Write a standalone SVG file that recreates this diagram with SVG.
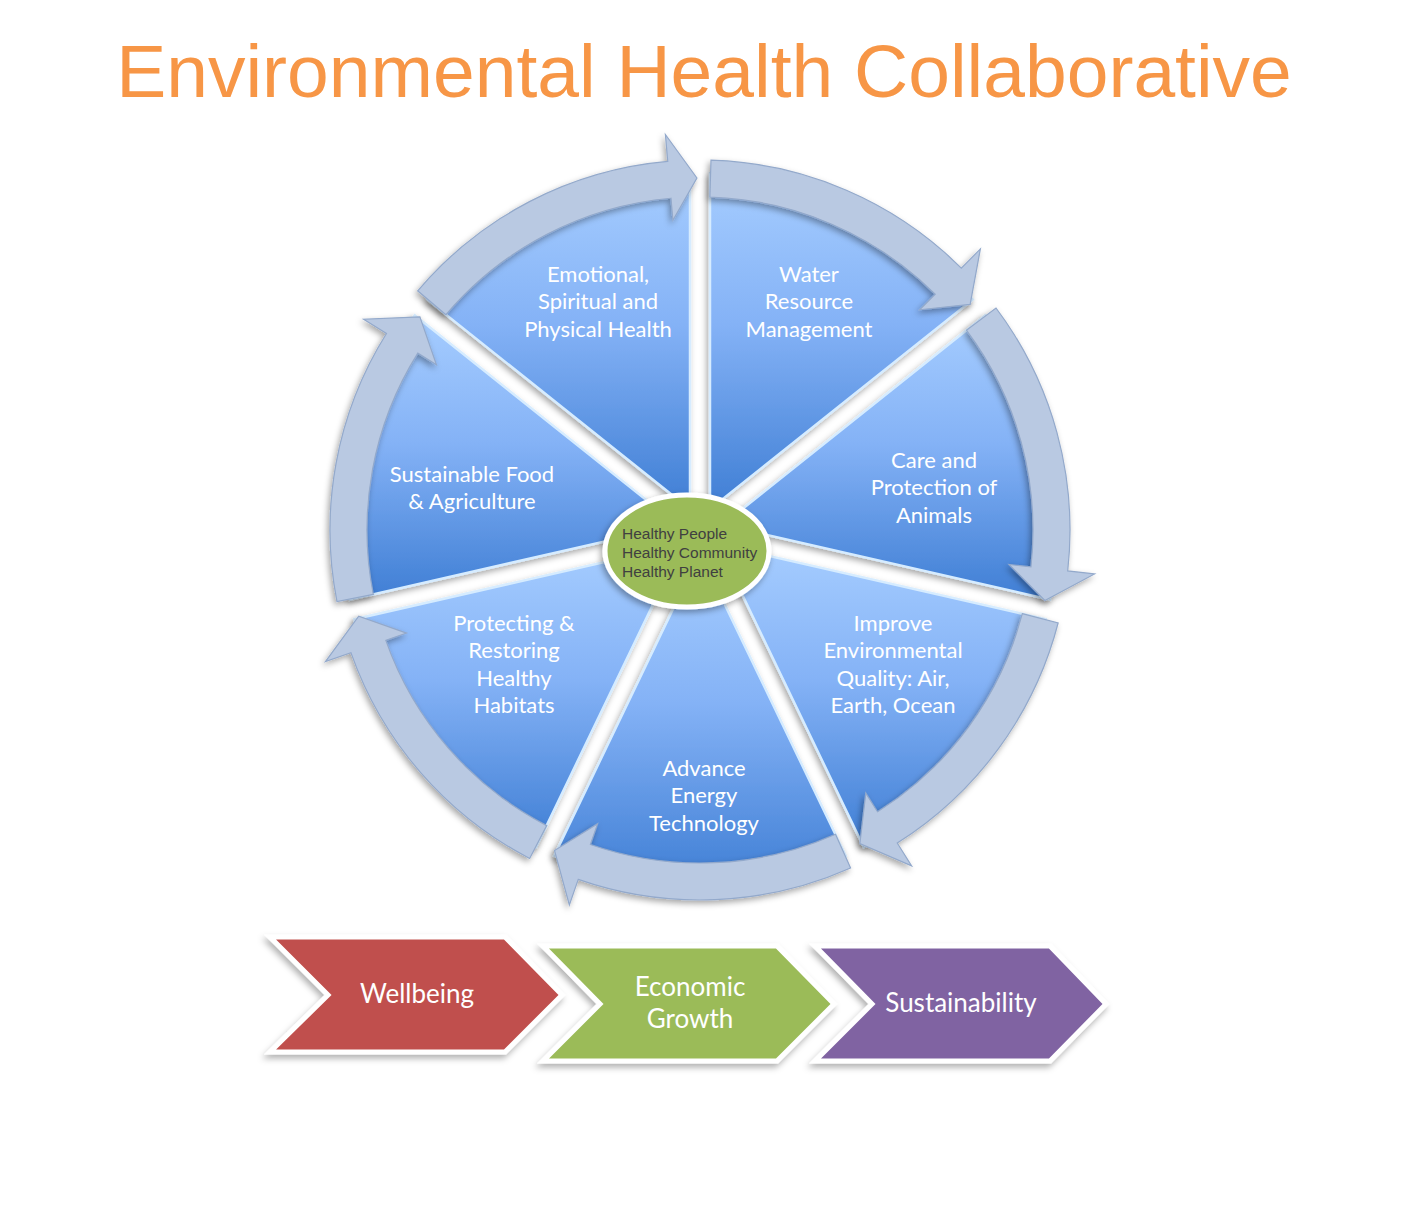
<svg xmlns="http://www.w3.org/2000/svg" width="1408" height="1216" viewBox="0 0 1408 1216">
<defs>
<linearGradient id="wg" x1="0" y1="0" x2="0" y2="1">
<stop offset="0" stop-color="#A6CDFF"/>
<stop offset="0.45" stop-color="#84B2F6"/>
<stop offset="1" stop-color="#3F7ED4"/>
</linearGradient>
<filter id="sh" x="-20%" y="-20%" width="140%" height="140%">
<feDropShadow dx="-2" dy="3" stdDeviation="3" flood-color="#000" flood-opacity="0.35"/>
</filter>
<filter id="sh2" x="-20%" y="-20%" width="140%" height="140%">
<feDropShadow dx="-2" dy="4" stdDeviation="3" flood-color="#000" flood-opacity="0.3"/>
</filter>
</defs>
<style>
.title{font-family:"Liberation Sans",Arial,sans-serif;font-size:75px;fill:#F79646}
.wedge{fill:url(#wg);stroke:#D6ECFF;stroke-width:2.5;filter:url(#sh)}
.arrow{fill:#B9C9E2;stroke:#93A9CB;stroke-width:1.2;filter:url(#sh)}
.lbl{font-family:Lato,"Open Sans",sans-serif;font-size:22px;fill:#fff;text-anchor:middle}
.ctr{font-family:"Liberation Sans",Arial,sans-serif;font-size:15.5px;fill:#404040}
.chev{stroke:#fff;stroke-width:5;stroke-linejoin:miter;filter:url(#sh2)}
.clbl{font-family:Lato,"Open Sans",sans-serif;font-size:26px;fill:#fff;text-anchor:middle}
</style>
<rect width="1408" height="1216" fill="#fff"/>
<text class="title" x="704" y="97" text-anchor="middle">Environmental Health Collaborative</text>

<g id="wedges">
<g id="n-water"><path class="wedge" d="M710,509.23 L710,173.14 A357,357 0 0 1 972.77,299.68 Z"/>
<text class="lbl"><tspan x="809" y="282">Water</tspan><tspan x="809" y="309">Resource</tspan><tspan x="809" y="337">Management</tspan></text></g>
<g id="n-care"><path class="wedge" d="M722.47,524.87 L985.24,315.32 A357,357 0 0 1 1050.14,599.66 Z"/>
<text class="lbl"><tspan x="934" y="468">Care and</tspan><tspan x="934" y="495">Protection of</tspan><tspan x="934" y="523">Animals</tspan></text></g>
<g id="n-improve"><path class="wedge" d="M718.02,544.37 L1045.69,619.16 A357,357 0 0 1 863.84,847.18 Z"/>
<text class="lbl"><tspan x="893" y="631">Improve</tspan><tspan x="893" y="658">Environmental</tspan><tspan x="893" y="686">Quality: Air,</tspan><tspan x="893" y="713">Earth, Ocean</tspan></text></g>
<g id="n-advance"><path class="wedge" d="M700,553.05 L845.82,855.86 A357,357 0 0 1 554.18,855.86 Z"/>
<text class="lbl"><tspan x="704" y="776">Advance</tspan><tspan x="704" y="803">Energy</tspan><tspan x="704" y="831">Technology</tspan></text></g>
<g id="n-protect"><path class="wedge" d="M681.98,544.37 L536.16,847.18 A357,357 0 0 1 354.32,619.16 Z"/>
<text class="lbl"><tspan x="514" y="631">Protecting &amp;</tspan><tspan x="514" y="658">Restoring</tspan><tspan x="514" y="686">Healthy</tspan><tspan x="514" y="713">Habitats</tspan></text></g>
<g id="n-food"><path class="wedge" d="M677.53,524.87 L349.87,599.66 A357,357 0 0 1 414.77,315.32 Z"/>
<text class="lbl"><tspan x="472" y="482">Sustainable Food</tspan><tspan x="472" y="509">&amp; Agriculture</tspan></text></g>
<g id="n-health"><path class="wedge" d="M690,509.23 L427.24,299.68 A357,357 0 0 1 690,173.14 Z"/>
<text class="lbl"><tspan x="598" y="282">Emotional,</tspan><tspan x="598" y="309">Spiritual and</tspan><tspan x="598" y="337">Physical Health</tspan></text></g>
</g>

<g id="connectors">
<path class="arrow" d="M709.88,197.15 L710.98,160.16 A370,370 0 0 1 961.31,268.05 L980.37,248.93 L970.16,304.34 L919.64,309.82 L935.17,294.24 A333,333 0 0 0 709.88,197.15 Z"/>
<path class="arrow" d="M966.4,330.2 L996,308 A370,370 0 0 1 1067.72,570.97 L1094.56,573.96 L1044.86,600.52 L1009.09,564.43 L1030.95,566.87 A333,333 0 0 0 966.4,330.2 Z"/>
<path class="arrow" d="M1022.31,613.70 L1058.12,623.0 A370,370 0 0 1 897.24,843.05 L911.63,865.89 L859.88,843.59 L865.79,793.13 L877.52,811.74 A333,333 0 0 0 1022.31,613.70 Z"/>
<path class="arrow" d="M835.52,834.18 L850.58,867.97 A370,370 0 0 1 578.23,879.39 L569.35,904.88 L554.51,850.52 L597.65,823.67 L590.41,844.45 A333,333 0 0 0 835.52,834.18 Z"/>
<path class="arrow" d="M546.68,825.60 L529.65,858.45 A370,370 0 0 1 350.92,652.64 L325.44,661.59 L358.69,616.09 L406.58,633.08 L385.82,640.37 A333,333 0 0 0 546.68,825.60 Z"/>
<path class="arrow" d="M373.29,594.44 L336.99,601.60 A370,370 0 0 1 386.47,333.54 L363.59,319.20 L419.89,316.84 L436.46,364.87 L417.82,353.19 A333,333 0 0 0 373.29,594.44 Z"/>
<path class="arrow" d="M445.92,314.75 L417.69,290.83 A370,370 0 0 1 667.75,161.41 L665.40,134.51 L696.93,178.01 L672.89,220.19 L670.98,198.27 A333,333 0 0 0 445.92,314.75 Z"/>
</g>

<g id="n-center">
<ellipse cx="687" cy="551" rx="82" ry="56" fill="#9BBB59" stroke="#fff" stroke-width="5" filter="url(#sh)"/>
<text class="ctr"><tspan x="622" y="539">Healthy People</tspan><tspan x="622" y="558">Healthy Community</tspan><tspan x="622" y="577">Healthy Planet</tspan></text>
</g>

<g id="n-wellbeing">
<path class="chev" fill="#C0504D" d="M270,937 L505,937 L562,995 L505,1052 L270,1052 L328,995 Z"/>
<text class="clbl" x="417" y="1003">Wellbeing</text>
</g>
<g id="n-growth">
<path class="chev" fill="#9BBB59" d="M543,946 L777,946 L834,1004 L777,1061 L543,1061 L600,1004 Z"/>
<text class="clbl"><tspan x="690" y="996">Economic</tspan><tspan x="690" y="1028">Growth</tspan></text>
</g>
<g id="n-sustain">
<path class="chev" fill="#8064A2" d="M815,946 L1050,946 L1106,1004 L1050,1061 L815,1061 L872,1004 Z"/>
<text class="clbl" x="961" y="1012">Sustainability</text>
</g>
</svg>
